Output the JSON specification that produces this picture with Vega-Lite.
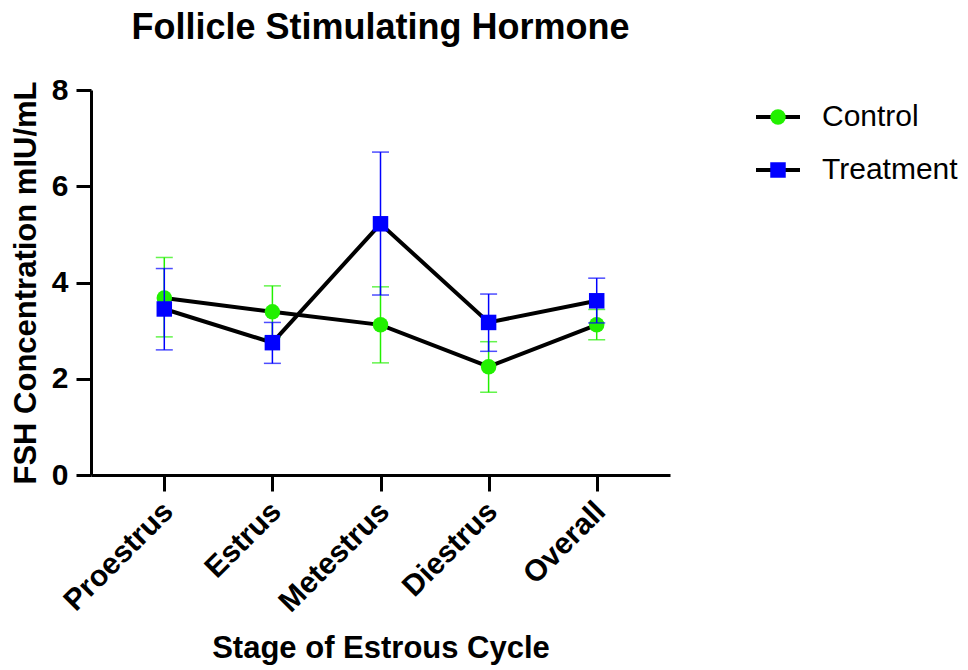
{
  "$schema": "https://vega.github.io/schema/vega-lite/v6.json",
  "width": 579,
  "height": 385,
  "autosize": {"type": "none"},
  "padding": {"left": 91, "top": 90, "right": 298, "bottom": 195},
  "background": "white",
  "title": {"text": "Follicle Stimulating Hormone", "fontSize": 36, "fontWeight": "bold", "font": "Liberation Sans", "color": "black", "anchor": "middle", "frame": "group", "offset": 28},
  "config": {
    "view": {"stroke": null},
    "font": "Liberation Sans",
    "axis": {"domainColor": "black", "domainWidth": 3, "tickColor": "black", "tickWidth": 3, "labelColor": "black", "labelFont": "Liberation Sans", "labelFontSize": 30, "labelFontWeight": "bold", "titleFont": "Liberation Sans", "titleFontSize": 31, "titleFontWeight": "bold", "titleColor": "black", "grid": false}
  },
  "data": {"values": [
    {"stage": "Proestrus", "group": "Control", "mean": 3.68, "lo": 2.87, "hi": 4.52},
    {"stage": "Estrus", "group": "Control", "mean": 3.39, "lo": 2.86, "hi": 3.93},
    {"stage": "Metestrus", "group": "Control", "mean": 3.12, "lo": 2.33, "hi": 3.91},
    {"stage": "Diestrus", "group": "Control", "mean": 2.25, "lo": 1.72, "hi": 2.77},
    {"stage": "Overall", "group": "Control", "mean": 3.12, "lo": 2.81, "hi": 3.44},
    {"stage": "Proestrus", "group": "Treatment", "mean": 3.45, "lo": 2.6, "hi": 4.29},
    {"stage": "Estrus", "group": "Treatment", "mean": 2.75, "lo": 2.32, "hi": 3.17},
    {"stage": "Metestrus", "group": "Treatment", "mean": 5.22, "lo": 3.74, "hi": 6.71},
    {"stage": "Diestrus", "group": "Treatment", "mean": 3.17, "lo": 2.57, "hi": 3.76},
    {"stage": "Overall", "group": "Treatment", "mean": 3.62, "lo": 3.16, "hi": 4.09}
  ]},
  "encoding": {
    "x": {"field": "stage", "type": "nominal",
      "scale": {"type": "point", "domain": ["Proestrus", "Estrus", "Metestrus", "Diestrus", "Overall"], "padding": 0.678},
      "axis": {"title": "Stage of Estrous Cycle", "labelAngle": -45, "labelAlign": "right", "labelBaseline": "top", "tickSize": 16, "labelPadding": 5, "labelOffset": -7, "titleY": 182, "titleBaseline": "alphabetic"}},
    "y": {"field": "mean", "type": "quantitative", "title": "FSH Concentration mIU/mL",
      "scale": {"domain": [0, 8], "nice": false},
      "axis": {"values": [0, 2, 4, 6, 8], "tickSize": 15, "labelPadding": 8, "titleX": -56, "titleBaseline": "alphabetic"}}
  },
  "layer": [
    {"transform": [{"filter": "datum.group === 'Control'"}], "mark": {"type": "rule", "color": "#22F000", "strokeWidth": 1.5},
     "encoding": {"y": {"field": "lo", "type": "quantitative", "title": "FSH Concentration mIU/mL"}, "y2": {"field": "hi"}}},
    {"transform": [{"filter": "datum.group === 'Control'"}], "mark": {"type": "tick", "color": "#22F000", "thickness": 1.5, "size": 17},
     "encoding": {"y": {"field": "lo", "type": "quantitative", "title": "FSH Concentration mIU/mL"}}},
    {"transform": [{"filter": "datum.group === 'Control'"}], "mark": {"type": "tick", "color": "#22F000", "thickness": 1.5, "size": 17},
     "encoding": {"y": {"field": "hi", "type": "quantitative", "title": "FSH Concentration mIU/mL"}}},
    {"transform": [{"filter": "datum.group === 'Control'"}], "mark": {"type": "line", "strokeWidth": 4},
     "encoding": {"stroke": {"field": "group", "type": "nominal", "scale": {"domain": ["Treatment", "Control"], "range": ["black", "black"]},
       "legend": {"orient": "none", "legendX": 663, "legendY": 12, "title": null, "labelFontSize": 30, "labelExpr": "''", "symbolSize": 1936, "symbolStrokeWidth": 4, "clipHeight": 30, "rowPadding": 23, "padding": 0, "zindex": 1}}}},
    {"transform": [{"filter": "datum.group === 'Control'"}], "mark": {"type": "point", "filled": true, "size": 240, "opacity": 1},
     "encoding": {
       "color": {"field": "group", "type": "nominal", "scale": {"domain": ["Control", "Treatment"], "range": ["#22F000", "#0000FF"]},
         "legend": {"orient": "none", "legendX": 672, "legendY": 12, "title": null, "labelFontSize": 30, "labelFont": "Liberation Sans", "labelFontWeight": "normal", "labelColor": "black", "labelOffset": 29, "symbolSize": 240, "symbolStrokeWidth": 0, "symbolOpacity": 1, "clipHeight": 30, "rowPadding": 23, "padding": 0, "zindex": 2}},
       "shape": {"field": "group", "type": "nominal", "scale": {"domain": ["Control", "Treatment"], "range": ["circle", "square"]},
         "legend": {"orient": "none", "legendX": 672, "legendY": 12, "title": null, "labelFontSize": 30, "labelFont": "Liberation Sans", "labelFontWeight": "normal", "labelColor": "black", "labelOffset": 29, "symbolSize": 240, "symbolStrokeWidth": 0, "symbolOpacity": 1, "clipHeight": 30, "rowPadding": 23, "padding": 0, "zindex": 2}}}},
    {"transform": [{"filter": "datum.group === 'Treatment'"}], "mark": {"type": "rule", "color": "#0000FF", "strokeWidth": 1.5},
     "encoding": {"y": {"field": "lo", "type": "quantitative", "title": "FSH Concentration mIU/mL"}, "y2": {"field": "hi"}}},
    {"transform": [{"filter": "datum.group === 'Treatment'"}], "mark": {"type": "tick", "color": "#0000FF", "thickness": 1.5, "size": 17},
     "encoding": {"y": {"field": "lo", "type": "quantitative", "title": "FSH Concentration mIU/mL"}}},
    {"transform": [{"filter": "datum.group === 'Treatment'"}], "mark": {"type": "tick", "color": "#0000FF", "thickness": 1.5, "size": 17},
     "encoding": {"y": {"field": "hi", "type": "quantitative", "title": "FSH Concentration mIU/mL"}}},
    {"transform": [{"filter": "datum.group === 'Treatment'"}], "mark": {"type": "line", "strokeWidth": 4},
     "encoding": {"stroke": {"field": "group", "type": "nominal", "scale": {"domain": ["Treatment", "Control"], "range": ["black", "black"]}}}},
    {"transform": [{"filter": "datum.group === 'Treatment'"}], "mark": {"type": "point", "filled": true, "size": 240, "opacity": 1},
     "encoding": {
       "color": {"field": "group", "type": "nominal", "scale": {"domain": ["Control", "Treatment"], "range": ["#22F000", "#0000FF"]}},
       "shape": {"field": "group", "type": "nominal", "scale": {"domain": ["Control", "Treatment"], "range": ["circle", "square"]}}}}
  ]
}
